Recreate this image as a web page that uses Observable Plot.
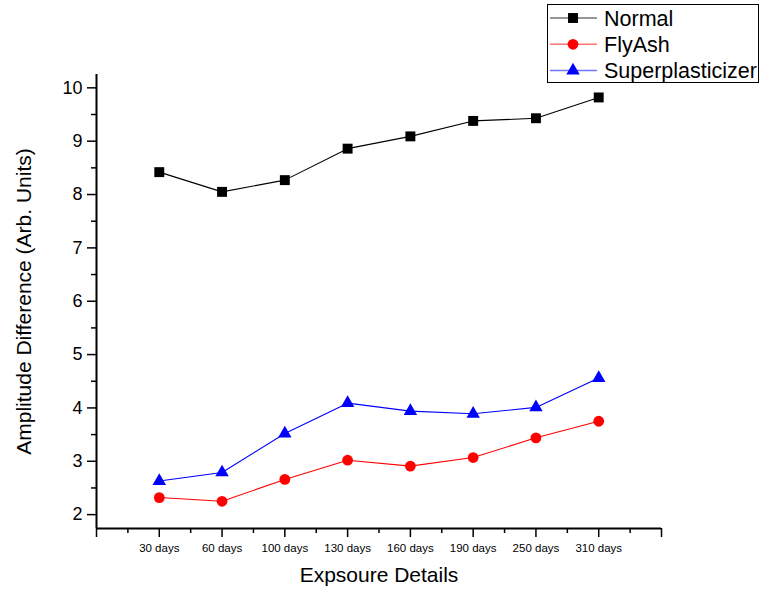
<!DOCTYPE html>
<html>
<head>
<meta charset="utf-8">
<script src="https://cdn.jsdelivr.net/npm/d3@7"></script>
<script src="https://cdn.jsdelivr.net/npm/@observablehq/plot@0.6"></script>
<style>
  html, body { margin: 0; padding: 0; background: #fff; }
  #wrap { position: relative; width: 759px; height: 589px; font-family: "Liberation Sans", Arial, sans-serif; }
  #legend { position: absolute; left: 0; top: 0; pointer-events: none; }
</style>
</head>
<body>
<div id="wrap"></div>
<script>
// ---- data ----
const categories = ["30 days", "60 days", "100 days", "130 days", "160 days", "190 days", "250 days", "310 days"];
const seriesNames = ["Normal", "FlyAsh", "Superplasticizer"];
const normal = [8.42, 8.05, 8.27, 8.86, 9.09, 9.38, 9.43, 9.82];
const flyAsh = [2.32, 2.25, 2.66, 3.02, 2.91, 3.07, 3.44, 3.75];
const superplasticizer = [2.63, 2.79, 3.52, 4.09, 3.94, 3.89, 4.01, 4.56];
const yTicks = [2, 3, 4, 5, 6, 7, 8, 9, 10];

// ---- styles ----
const seriesValues = [normal, flyAsh, superplasticizer];
const seriesColors = ["#000000", "#ff0000", "#0000ff"];
const seriesSymbols = ["square", "circle", "triangle"];
const seriesR = [5.6, 5.4, 5.0];
const yDomain = [1.74, 10.25];
const xDomain = [0, categories.length + 1];

const rows = seriesNames.flatMap((name, s) =>
  seriesValues[s].map((v, i) => ({series: name, pos: i + 1, value: v, cat: categories[i]})));

const font = '"Liberation Sans", Arial, sans-serif';

const marks = [
  Plot.ruleX([xDomain[0]], {strokeWidth: 2}),
  Plot.ruleY([yDomain[0]], {strokeWidth: 2}),
  Plot.axisY({ticks: yTicks, tickSize: 9, tickPadding: 5, fontSize: 18, strokeWidth: 1.5, label: null}),
  Plot.axisY({ticks: yTicks.slice(0, -1).map(t => t + 0.5), tickSize: 5, strokeWidth: 1.5, tickFormat: () => "", label: null}),
  Plot.axisX({ticks: d3.range(xDomain[0], xDomain[1] + 1), tickSize: 9, tickPadding: 6, fontSize: 11.5, strokeWidth: 1.5,
    tickFormat: i => categories[i - 1] ?? "", label: null}),
  Plot.axisX({ticks: d3.range(xDomain[0] + 0.5, xDomain[1], 1), tickSize: 5, strokeWidth: 1.5, tickFormat: () => "", label: null}),
  Plot.text(["Expsoure Details"], {text: d => d, frameAnchor: "bottom", lineAnchor: "middle", textAnchor: "middle", dy: 47, fontSize: 21}),
  Plot.text(["Amplitude Difference (Arb. Units)"], {text: d => d, frameAnchor: "left", textAnchor: "middle", lineAnchor: "middle", dx: -72, rotate: -90, fontSize: 21})
];

seriesNames.forEach((name, s) => {
  const data = rows.filter(d => d.series === name);
  marks.push(Plot.line(data, {x: "pos", y: "value", stroke: seriesColors[s], strokeWidth: 1.1}));
  marks.push(Plot.dot(data, {x: "pos", y: "value", fill: seriesColors[s], symbol: seriesSymbols[s], r: seriesR[s], stroke: "none"}));
});

const chart = Plot.plot({
  width: 759,
  height: 589,
  marginLeft: 96,
  marginRight: 98,
  marginTop: 74,
  marginBottom: 61,
  style: {fontFamily: font, background: "white", color: "black"},
  x: {domain: xDomain},
  y: {domain: yDomain},
  marks
});
document.getElementById("wrap").appendChild(chart);

// ---- legend ----
const leg = d3.select("#wrap").append("svg")
  .attr("id", "legend").attr("width", 759).attr("height", 100);
leg.append("rect").attr("x", 547.5).attr("y", 4.5).attr("width", 211).attr("height", 78)
  .attr("fill", "white").attr("stroke", "black").attr("stroke-width", 1);
const symMap = {square: d3.symbolSquare, circle: d3.symbolCircle, triangle: d3.symbolTriangle};
seriesNames.forEach((name, s) => {
  const cy = 18 + s * 26.3;
  leg.append("line").attr("x1", 550).attr("x2", 597).attr("y1", cy).attr("y2", cy)
    .attr("stroke", seriesColors[s]).attr("stroke-opacity", 0.55).attr("stroke-width", 1.5);
  leg.append("path")
    .attr("d", d3.symbol(symMap[seriesSymbols[s]], Math.PI * seriesR[s] * seriesR[s])())
    .attr("transform", `translate(573,${cy})`).attr("fill", seriesColors[s]);
  leg.append("text").attr("x", 604).attr("y", cy).attr("dy", "0.35em")
    .attr("font-family", font).attr("font-size", 21.5).text(name);
});
</script>
</body>
</html>
